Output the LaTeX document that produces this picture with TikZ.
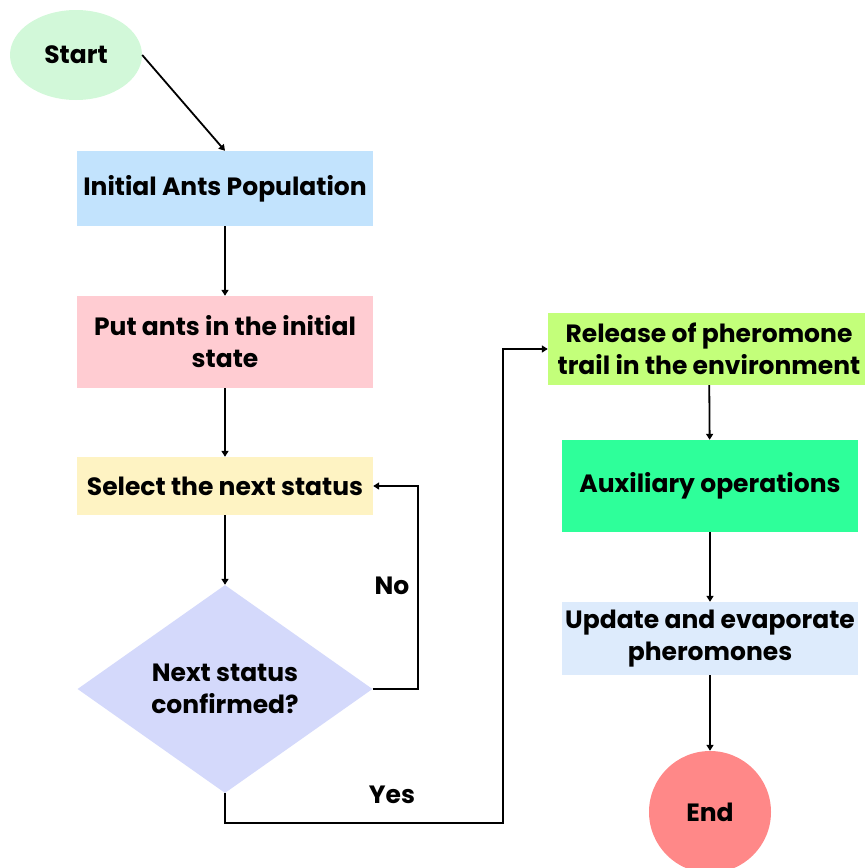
\documentclass[tikz,border=0pt]{standalone}
\usepackage{fontspec}
\setmainfont{Poppins}
\usetikzlibrary{shapes.geometric,arrows.meta}
\definecolor{startgreen}{HTML}{D2F8D9}
\definecolor{initblue}{HTML}{C2E3FD}
\definecolor{putpink}{HTML}{FFCCD2}
\definecolor{selyellow}{HTML}{FEF3C3}
\definecolor{decilav}{HTML}{D4D9FB}
\definecolor{rellime}{HTML}{C3FF7A}
\definecolor{auxgreen}{HTML}{2EFF9A}
\definecolor{updblue}{HTML}{DDEBFC}
\definecolor{endred}{HTML}{FF8888}
\begin{document}
\begin{tikzpicture}[x=1pt,y=-1pt,
  txt/.style={font=\fontsize{25}{32}\selectfont\bfseries, text=black},
  box/.style={txt, rectangle, inner sep=0pt, align=center},
  flow/.style={draw=black, line width=1.8pt, -{Triangle[length=6pt,width=7pt]}}]
\useasboundingbox (0,0) rectangle (865,868);

% terminals
\node[txt, ellipse, fill=startgreen, minimum width=132pt, minimum height=90pt, inner sep=0pt] (start) at (76,55) {Start};
\node[txt, circle, fill=endred, minimum size=122pt, inner sep=0pt] (end) at (710,812) {End};

% left column
\node[box, fill=initblue, minimum width=296pt, minimum height=75pt] (init) at (225,188.5) {Initial Ants Population};
\node[box, fill=putpink, minimum width=296pt, minimum height=92pt] (put) at (225,342) {Put ants in the initial\\state};
\node[box, fill=selyellow, minimum width=296pt, minimum height=58pt] (sel) at (225,486) {Select the next status};
\node[txt, diamond, fill=decilav, minimum width=295pt, minimum height=208pt, inner sep=0pt, aspect=1.42, align=center] (dec) at (225,689) {Next status\\confirmed?};

% right column
\node[box, fill=rellime, minimum width=322pt, minimum height=72pt] (rel) at (709,349) {Release of pheromone\\trail in the environment};
\node[box, fill=auxgreen, minimum width=296pt, minimum height=92pt] (aux) at (710,486) {Auxiliary operations};
\node[box, fill=updblue, minimum width=296pt, minimum height=73pt] (upd) at (710,638.5) {Update and evaporate\\pheromones};

% bend points of the loop and the exit
\coordinate (noturn) at (418,0);
\coordinate (yesy) at (0,823);
\coordinate (yesx) at (503,0);

% connectors
\draw[flow] (start.east) -- (init.north);
\draw[flow] (init) -- (put);
\draw[flow] (put) -- (sel);
\draw[flow] (sel) -- (dec);
\draw[flow] (dec.east) -- (dec.east -| noturn) -- (sel.east -| noturn) -- (sel.east);
\draw[flow] (dec.south) -- (dec.south |- yesy) -- (yesx |- yesy) -- (yesx |- rel.west) -- (rel.west);
\draw[flow] (rel) -- (aux);
\draw[flow] (aux) -- (upd);
\draw[flow] (upd) -- (end);

% branch labels
\node[txt] (nolbl) at (392,586) {No};
\node[txt] (yeslbl) at (392,795) {Yes};
\end{tikzpicture}
\end{document}
